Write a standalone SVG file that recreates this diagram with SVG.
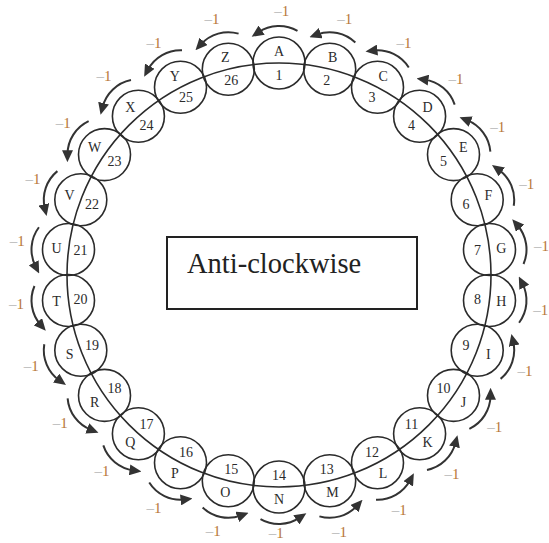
<svg xmlns="http://www.w3.org/2000/svg" width="549" height="543" viewBox="0 0 549 543">
<style>
.sc{fill:none;stroke:#2b2b2b;stroke-width:1.6}
.big{fill:none;stroke:#2b2b2b;stroke-width:1.6}
.arc{fill:none;stroke:#333;stroke-width:2;marker-end:url(#ah)}
.t{font-family:"Liberation Serif","DejaVu Serif",serif;font-size:14px;fill:#2b2b2b;text-anchor:middle;dominant-baseline:central}
.m{font-family:"Liberation Serif","DejaVu Serif",serif;font-size:15px;text-anchor:middle;dominant-baseline:central}
.d{fill:#b5b5b5}
.o{fill:#b8783a}
.title{font-family:"Liberation Serif","DejaVu Serif",serif;font-size:28.5px;fill:#222}
</style>
<defs>
<marker id="ah" markerUnits="userSpaceOnUse" markerWidth="12" markerHeight="11" viewBox="0 0 12 11" refX="4" refY="5.5" orient="auto">
<path d="M0,0 L12,5.5 L0,11 z" fill="#333"/>
</marker>
</defs>
<rect id="box" x="167" y="237" width="250" height="72" fill="none" stroke="#222" stroke-width="2"/>
<text class="title" x="187" y="273">Anti-clockwise</text>
<circle class="big" cx="279" cy="275" r="212"/>
<g id="connectors">
<path class="arc" d="M297.5,30.96 A37,37 0 0 0 258.31,32.33"/>
<path class="arc" d="M355.33,42.52 A37,37 0 0 0 316.95,34.47"/>
<path class="arc" d="M408.77,67.53 A37,37 0 0 0 373.43,50.52"/>
<path class="arc" d="M454.69,104.59 A37,37 0 0 0 424.45,79.62"/>
<path class="arc" d="M490.38,151.62 A37,37 0 0 0 466.99,120.15"/>
<path class="arc" d="M513.72,205.73 A37,37 0 0 0 498.54,169.57"/>
<path class="arc" d="M523.54,264 A37,37 0 0 0 517.46,225.26"/>
<path class="arc" d="M519.08,322.73 A37,37 0 0 0 522.44,283.66"/>
<path class="arc" d="M500.6,378.86 A37,37 0 0 0 513.22,341.73"/>
<path class="arc" d="M469.36,428.83 A37,37 0 0 0 490.5,395.8"/>
<path class="arc" d="M427,469.95 A37,37 0 0 0 455.43,442.94"/>
<path class="arc" d="M376.01,499.67 A37,37 0 0 0 410.07,480.25"/>
<path class="arc" d="M319.4,516.34 A37,37 0 0 0 357.13,505.63"/>
<path class="arc" d="M260.5,519.04 A37,37 0 0 0 299.69,517.67"/>
<path class="arc" d="M202.67,507.48 A37,37 0 0 0 241.05,515.53"/>
<path class="arc" d="M149.23,482.47 A37,37 0 0 0 184.57,499.48"/>
<path class="arc" d="M103.31,445.41 A37,37 0 0 0 133.55,470.38"/>
<path class="arc" d="M67.62,398.38 A37,37 0 0 0 91.01,429.85"/>
<path class="arc" d="M44.28,344.27 A37,37 0 0 0 59.46,380.43"/>
<path class="arc" d="M34.46,286 A37,37 0 0 0 40.54,324.74"/>
<path class="arc" d="M38.92,227.27 A37,37 0 0 0 35.56,266.34"/>
<path class="arc" d="M57.4,171.14 A37,37 0 0 0 44.78,208.27"/>
<path class="arc" d="M88.64,121.17 A37,37 0 0 0 67.5,154.2"/>
<path class="arc" d="M131,80.05 A37,37 0 0 0 102.57,107.06"/>
<path class="arc" d="M181.99,50.33 A37,37 0 0 0 147.93,69.75"/>
<path class="arc" d="M238.6,33.66 A37,37 0 0 0 200.87,44.37"/>
</g>
<g id="nA"><circle class="sc" cx="279" cy="63" r="26"/><text class="t" x="279" y="51">A</text><text class="t" x="279" y="75">1</text><text class="m" x="281.7" y="11"><tspan class="d">–</tspan><tspan class="o">1</tspan></text></g>
<g id="nB"><circle class="sc" cx="329.7" cy="69.2" r="26"/><text class="t" x="332.6" y="57.6">B</text><text class="t" x="326.8" y="80.9">2</text><text class="m" x="344.8" y="19.4"><tspan class="d">–</tspan><tspan class="o">1</tspan></text></g>
<g id="nC"><circle class="sc" cx="377.5" cy="87.3" r="26"/><text class="t" x="383.1" y="76.7">C</text><text class="t" x="371.9" y="97.9">3</text><text class="m" x="404.1" y="42.5"><tspan class="d">–</tspan><tspan class="o">1</tspan></text></g>
<g id="nD"><circle class="sc" cx="419.6" cy="116.3" r="26"/><text class="t" x="427.6" y="107.3">D</text><text class="t" x="411.6" y="125.3">4</text><text class="m" x="456.1" y="79.2"><tspan class="d">–</tspan><tspan class="o">1</tspan></text></g>
<g id="nE"><circle class="sc" cx="453.5" cy="154.6" r="26"/><text class="t" x="463.4" y="147.8">E</text><text class="t" x="443.6" y="161.4">5</text><text class="m" x="497.8" y="127.3"><tspan class="d">–</tspan><tspan class="o">1</tspan></text></g>
<g id="nF"><circle class="sc" cx="477.2" cy="199.8" r="26"/><text class="t" x="488.4" y="195.5">F</text><text class="t" x="466" y="204.1">6</text><text class="m" x="526.8" y="183.9"><tspan class="d">–</tspan><tspan class="o">1</tspan></text></g>
<g id="nG"><circle class="sc" cx="489.5" cy="249.5" r="26"/><text class="t" x="501.4" y="248.1">G</text><text class="t" x="477.6" y="250.9">7</text><text class="m" x="541.4" y="245.9"><tspan class="d">–</tspan><tspan class="o">1</tspan></text></g>
<g id="nH"><circle class="sc" cx="489.5" cy="300.5" r="26"/><text class="t" x="501.4" y="301.9">H</text><text class="t" x="477.6" y="299.1">8</text><text class="m" x="540.8" y="309.5"><tspan class="d">–</tspan><tspan class="o">1</tspan></text></g>
<g id="nI"><circle class="sc" cx="477.2" cy="350.2" r="26"/><text class="t" x="488.4" y="354.5">I</text><text class="t" x="466" y="345.9">9</text><text class="m" x="524.9" y="371.2"><tspan class="d">–</tspan><tspan class="o">1</tspan></text></g>
<g id="nJ"><circle class="sc" cx="453.5" cy="395.4" r="26"/><text class="t" x="463.4" y="402.2">J</text><text class="t" x="443.6" y="388.6">10</text><text class="m" x="494.8" y="427.2"><tspan class="d">–</tspan><tspan class="o">1</tspan></text></g>
<g id="nK"><circle class="sc" cx="419.6" cy="433.7" r="26"/><text class="t" x="427.6" y="442.7">K</text><text class="t" x="411.6" y="424.7">11</text><text class="m" x="452.1" y="474.4"><tspan class="d">–</tspan><tspan class="o">1</tspan></text></g>
<g id="nL"><circle class="sc" cx="377.5" cy="462.7" r="26"/><text class="t" x="383.1" y="473.3">L</text><text class="t" x="371.9" y="452.1">12</text><text class="m" x="399.3" y="510"><tspan class="d">–</tspan><tspan class="o">1</tspan></text></g>
<g id="nM"><circle class="sc" cx="329.7" cy="480.8" r="26"/><text class="t" x="332.6" y="492.4">M</text><text class="t" x="326.8" y="469.2">13</text><text class="m" x="339.5" y="531.9"><tspan class="d">–</tspan><tspan class="o">1</tspan></text></g>
<g id="nN"><circle class="sc" cx="279" cy="487" r="26"/><text class="t" x="279" y="499">N</text><text class="t" x="279" y="475">14</text><text class="m" x="276.3" y="533"><tspan class="d">–</tspan><tspan class="o">1</tspan></text></g>
<g id="nO"><circle class="sc" cx="228.3" cy="480.8" r="26"/><text class="t" x="225.4" y="492.4">O</text><text class="t" x="231.2" y="469.2">15</text><text class="m" x="213.2" y="530.6"><tspan class="d">–</tspan><tspan class="o">1</tspan></text></g>
<g id="nP"><circle class="sc" cx="180.5" cy="462.7" r="26"/><text class="t" x="174.9" y="473.3">P</text><text class="t" x="186.1" y="452.1">16</text><text class="m" x="153.9" y="507.5"><tspan class="d">–</tspan><tspan class="o">1</tspan></text></g>
<g id="nQ"><circle class="sc" cx="138.4" cy="433.7" r="26"/><text class="t" x="130.4" y="442.7">Q</text><text class="t" x="146.4" y="424.7">17</text><text class="m" x="101.9" y="470.8"><tspan class="d">–</tspan><tspan class="o">1</tspan></text></g>
<g id="nR"><circle class="sc" cx="104.5" cy="395.4" r="26"/><text class="t" x="94.6" y="402.2">R</text><text class="t" x="114.4" y="388.6">18</text><text class="m" x="60.2" y="422.7"><tspan class="d">–</tspan><tspan class="o">1</tspan></text></g>
<g id="nS"><circle class="sc" cx="80.8" cy="350.2" r="26"/><text class="t" x="69.6" y="354.5">S</text><text class="t" x="92" y="345.9">19</text><text class="m" x="31.2" y="366.1"><tspan class="d">–</tspan><tspan class="o">1</tspan></text></g>
<g id="nT"><circle class="sc" cx="68.5" cy="300.5" r="26"/><text class="t" x="56.6" y="301.9">T</text><text class="t" x="80.4" y="299.1">20</text><text class="m" x="16.6" y="304.1"><tspan class="d">–</tspan><tspan class="o">1</tspan></text></g>
<g id="nU"><circle class="sc" cx="68.5" cy="249.5" r="26"/><text class="t" x="56.6" y="248.1">U</text><text class="t" x="80.4" y="250.9">21</text><text class="m" x="17.2" y="240.5"><tspan class="d">–</tspan><tspan class="o">1</tspan></text></g>
<g id="nV"><circle class="sc" cx="80.8" cy="199.8" r="26"/><text class="t" x="69.6" y="195.5">V</text><text class="t" x="92" y="204.1">22</text><text class="m" x="33.1" y="178.8"><tspan class="d">–</tspan><tspan class="o">1</tspan></text></g>
<g id="nW"><circle class="sc" cx="104.5" cy="154.6" r="26"/><text class="t" x="94.6" y="147.8">W</text><text class="t" x="114.4" y="161.4">23</text><text class="m" x="63.3" y="122.8"><tspan class="d">–</tspan><tspan class="o">1</tspan></text></g>
<g id="nX"><circle class="sc" cx="138.4" cy="116.3" r="26"/><text class="t" x="130.4" y="107.3">X</text><text class="t" x="146.4" y="125.3">24</text><text class="m" x="104" y="76"><tspan class="d">–</tspan><tspan class="o">1</tspan></text></g>
<g id="nY"><circle class="sc" cx="180.5" cy="87.3" r="26"/><text class="t" x="174.9" y="76.7">Y</text><text class="t" x="186.1" y="97.9">25</text><text class="m" x="154" y="43"><tspan class="d">–</tspan><tspan class="o">1</tspan></text></g>
<g id="nZ"><circle class="sc" cx="228.3" cy="69.2" r="26"/><text class="t" x="225.4" y="57.6">Z</text><text class="t" x="231.2" y="80.9">26</text><text class="m" x="212" y="19"><tspan class="d">–</tspan><tspan class="o">1</tspan></text></g>
</svg>
